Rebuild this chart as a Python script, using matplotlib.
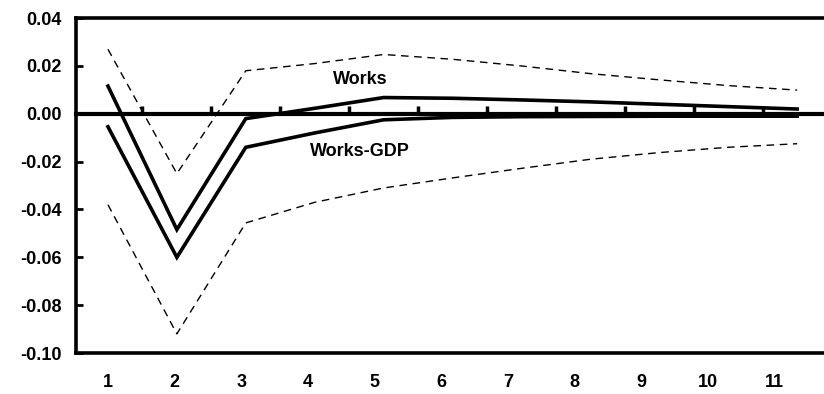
import numpy as np
import matplotlib.pyplot as plt

plt.rcParams['font.family'] = ['Liberation Sans', 'DejaVu Sans']
plt.rcParams['font.weight'] = 'bold'

# Respuesta al impulso: periodos y series
periodos = np.arange(1, 12)
works = [0.0116, -0.0484, -0.0020, 0.0023, 0.0068, 0.0065, 0.0058, 0.0050, 0.0040, 0.0030, 0.0020]
works_gdp = [-0.0054, -0.0600, -0.0140, -0.0080, -0.0025, -0.0015, -0.0012, -0.0011, -0.0010, -0.0010, -0.0010]
banda_sup = [0.0270, -0.0250, 0.0180, 0.0210, 0.0248, 0.0228, 0.0200, 0.0168, 0.0142, 0.0118, 0.0099]
banda_inf = [-0.0380, -0.0920, -0.0456, -0.0370, -0.0310, -0.0268, -0.0228, -0.0190, -0.0162, -0.0140, -0.0125]
etiquetas_x = [str(p) for p in periodos]
yticks = np.arange(-0.10, 0.041, 0.02)

fig = plt.figure(figsize=(8.24, 3.94), dpi=100)
ax = fig.add_axes([0.0922, 0.104, 0.9078, 0.850])

ax.plot(periodos, banda_sup, color='black', lw=1.0, ls=(0, (5.5, 4)))
ax.plot(periodos, banda_inf, color='black', lw=1.0, ls=(0, (5.5, 4)))
ax.plot(periodos, works, color='black', lw=2.6, solid_joinstyle='miter')
ax.plot(periodos, works_gdp, color='black', lw=2.6, solid_joinstyle='miter')

ax.text(4.66, 0.0145, 'Works', fontsize=13, fontweight='bold', ha='center', va='center')
ax.text(4.66, -0.0157, 'Works-GDP', fontsize=13, fontweight='bold', ha='center', va='center')

ymin, ymax = -0.10, 0.04
ax.set_ylim(ymin, ymax)
ax.set_xlim(0.536, 11.39)

ax.set_yticks(yticks)
ax.set_yticklabels([f'{v:.2f}' for v in yticks])
ax.tick_params(axis='y', direction='in', length=5, width=2, pad=10, labelsize=13)

# etiquetas del eje x, algo corridas a la izquierda
ax.set_xticks(1 + (periodos - 1) * 0.967)
ax.set_xticklabels(etiquetas_x)
ax.tick_params(axis='x', length=0, pad=15, labelsize=13)

for lado in ['left', 'top', 'bottom']:
    ax.spines[lado].set_linewidth(2.6)
ax.spines['right'].set_visible(False)

# eje en cero con marcas entre categorias
cero = (0 - ymin) / (ymax - ymin)
eje0 = ax.secondary_xaxis(cero)
eje0.set_xticks(periodos[:-1] + 0.5)
eje0.set_xticklabels([])
eje0.tick_params(direction='out', length=6, width=2.5)
for sp in eje0.spines.values():
    sp.set_linewidth(3)

fig.savefig('out.png', dpi=100)
